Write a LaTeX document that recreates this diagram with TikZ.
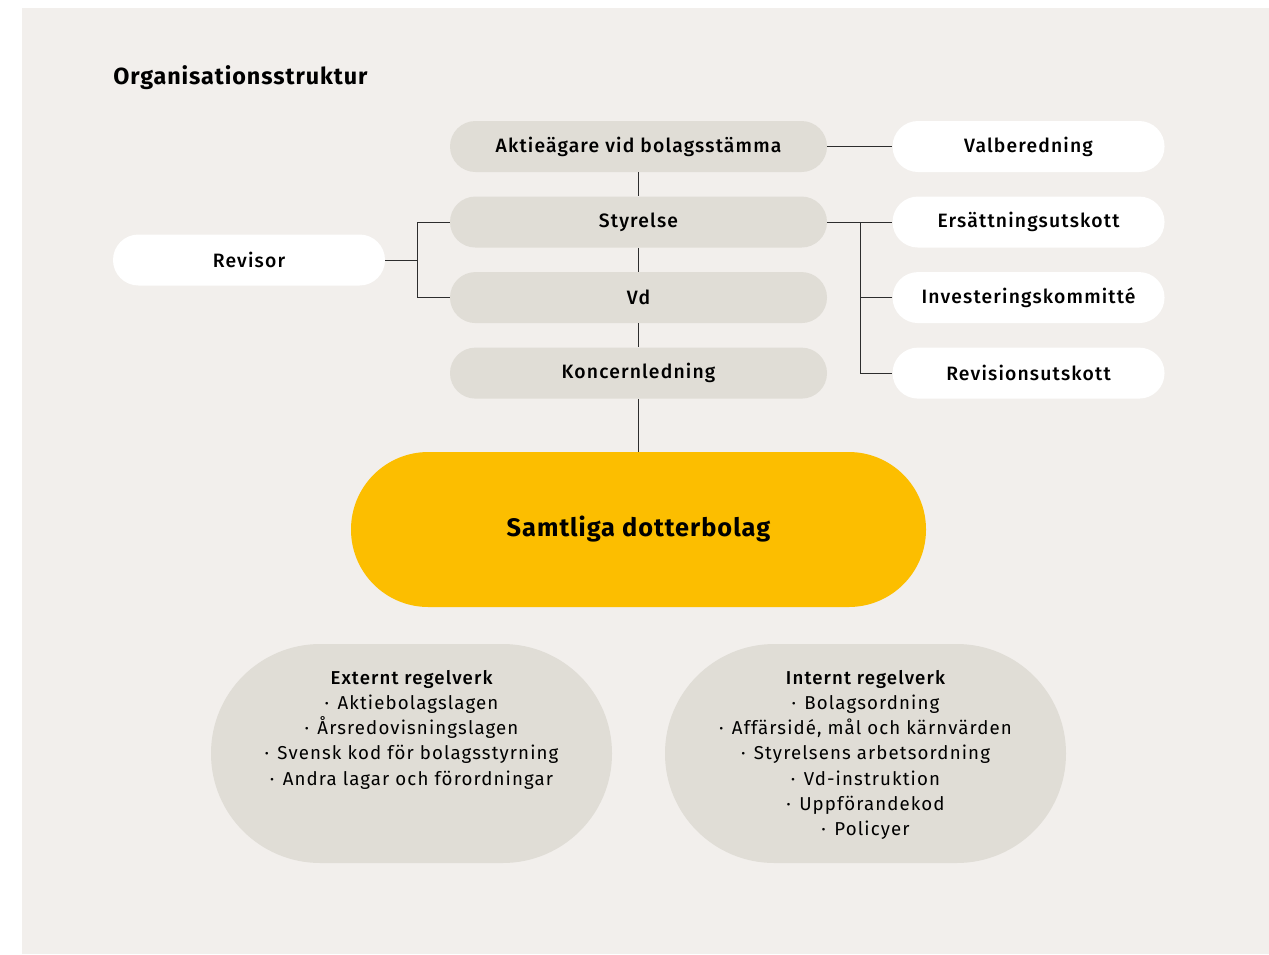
\documentclass[tikz,border=0pt]{standalone}
\usepackage{fontspec}
\setmainfont{Fira Sans}[LetterSpace=6]
\newfontfamily\medel{Fira Sans Medium}[LetterSpace=6]
\usetikzlibrary{positioning}
\definecolor{bakgrund}{RGB}{242,239,236}
\definecolor{gra}{RGB}{224,221,214}
\definecolor{gul}{RGB}{252,190,0}
\definecolor{streck}{RGB}{45,45,45}
\newcommand{\pkt}{·\hspace{0.45em}}
\tikzset{
  ruta/.style={rounded corners=19.1pt, minimum height=38.25pt, inner sep=0pt,
    font=\fontsize{14.5}{17}\selectfont\medel},
  grabox/.style={ruta, fill=gra, minimum width=282.75pt},
  vitbox/.style={ruta, fill=white, minimum width=204pt},
  regel/.style={fill=gra, rounded corners=82pt, minimum width=300.75pt, minimum height=164.25pt, inner sep=0pt},
  lista/.style={anchor=north, align=center, inner sep=0pt,
    font=\fontsize{14}{18.9}\selectfont},
  lin/.style={draw=streck, line width=0.75pt}
}
\begin{document}
\begin{tikzpicture}[x=0.75pt,y=-0.75pt]
  \useasboundingbox (0,0) rectangle (1269,954);
  \fill[bakgrund] (22,8) rectangle (1269,954);
  % rubrik
  \node[anchor=west, inner sep=0pt, font=\fontsize{17.5}{20}\selectfont\bfseries\addfontfeature{LetterSpace=4}] (titel) at (113,78) {Organisationsstruktur};
  % mittkolumn
  \node[grabox] (aktie) at (638.5,146.5) {Aktieägare vid bolagsstämma};
  \node[grabox, below=18pt of aktie] (styr) {Styrelse};
  \node[grabox, below=18pt of styr] (vd) {Vd};
  \node[grabox, below=18pt of vd] (konc) {Koncernledning};
  % sidorutor
  \node[vitbox, right=48.75pt of aktie] (valb) {Valberedning};
  \node[vitbox, right=48.75pt of styr] (ers) {Ersättningsutskott};
  \node[vitbox, right=48.75pt of vd] (inv) {Investeringskommitté};
  \node[vitbox, right=48.75pt of konc] (revu) {Revisionsutskott};
  \node[vitbox] (revisor) at (249,260) {Revisor};
  % dotterbolag
  \node[fill=gul, rounded corners=58pt, minimum width=431.25pt, minimum height=116.25pt, inner sep=0pt,
    font=\fontsize{19}{22}\selectfont\bfseries\addfontfeature{LetterSpace=4}] (dotter) at (638.5,529.5) {Samtliga dotterbolag};
  % regelverk
  \node[regel] (ext) at (411.5,753.5) {};
  \node[regel] (int) at (865.5,753.5) {};
  \node[lista] (exttext) at (411.5,670) {{\medel Externt regelverk}\\
    \pkt Aktiebolagslagen\\
    \pkt Årsredovisningslagen\\
    \pkt Svensk kod för bolagsstyrning\\
    \pkt Andra lagar och förordningar};
  \node[lista] (inttext) at (865.5,670) {{\medel Internt regelverk}\\
    \pkt Bolagsordning\\
    \pkt Affärsidé, mål och kärnvärden\\
    \pkt Styrelsens arbetsordning\\
    \pkt Vd-instruktion\\
    \pkt Uppförandekod\\
    \pkt Policyer};
  % linjer
  \draw[lin] (aktie) -- (valb);
  \draw[lin] (aktie) -- (styr);
  \draw[lin] (styr) -- (vd);
  \draw[lin] (vd) -- (konc);
  \draw[lin] (konc) -- (dotter);
  \draw[lin] (revisor.east) -- ++(24pt,0) coordinate (vb);
  \draw[lin] (styr.west) -| (vb) |- (vd.west);
  \draw[lin] (styr) -- (ers);
  \draw[lin] (styr.east) ++(24.75pt,0) coordinate (hb) |- (revu.west);
  \draw[lin] (inv.west) -- (inv.west -| hb);
\end{tikzpicture}
\end{document}
